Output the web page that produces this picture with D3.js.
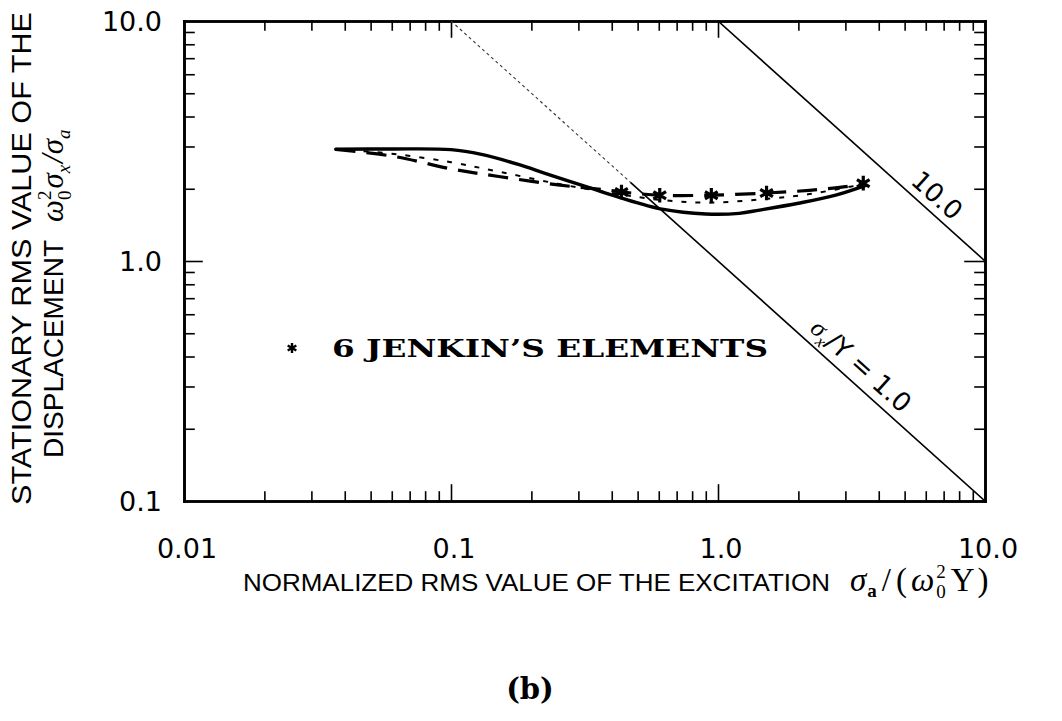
<!DOCTYPE html>
<html>
<head>
<meta charset="utf-8">
<script src="https://cdn.jsdelivr.net/npm/d3@7"></script>
<style>
  html, body { margin: 0; padding: 0; background: #fff; }
  svg { display: block; }
  .sans { font-family: "Liberation Sans", Arial, Helvetica, sans-serif; }
  .num { font-family: "DejaVu Sans", "Liberation Sans", sans-serif; }
  .serif { font-family: "DejaVu Serif", "Liberation Serif", serif; }
  .math { font-family: "Liberation Serif", "DejaVu Serif", serif; font-style: italic; }
</style>
</head>
<body>
<svg id="chart" width="1062" height="721"></svg>
<script>
// Axis ticks and labels
const xMajorTicks = [0.01, 0.1, 1, 10];
const xMajorLabels = ["0.01", "0.1", "1.0", "10.0"];
const yMajorTicks = [0.1, 1, 10];
const yMajorLabels = ["0.1", "1.0", "10.0"];

// Response curves: normalized excitation vs normalized RMS displacement
const solidX = [0.037, 0.06, 0.1, 0.13, 0.18, 0.225, 0.334, 0.421, 0.625, 0.9, 1.2, 1.43, 2.0, 2.76, 3.6];
const solidY = [2.92, 2.93, 2.91, 2.78, 2.52, 2.32, 2.01, 1.85, 1.64, 1.57, 1.58, 1.63, 1.74, 1.88, 2.07];

const dashedX = [0.037, 0.062, 0.1, 0.151, 0.256, 0.38, 0.435, 0.605, 0.944, 1.52, 2.2, 3.0, 3.5];
const dashedY = [2.92, 2.72, 2.42, 2.25, 2.07, 1.98, 1.94, 1.88, 1.88, 1.92, 1.97, 2.04, 2.11];

const dottedX = [0.037, 0.06, 0.1, 0.15, 0.25, 0.4, 0.6, 0.9, 1.4, 2.2, 3.5];
const dottedY = [2.92, 2.80, 2.58, 2.36, 2.10, 1.92, 1.80, 1.75, 1.80, 1.90, 2.09];

// Six Jenkin's elements model points
const starX = [0.435, 0.605, 0.944, 1.52, 3.5];
const starY = [1.94, 1.88, 1.88, 1.92, 2.11];

// Constant sigma_x / Y reference lines
const ratioLines = [1, 10];

const svg = d3.select("#chart");
const x = d3.scaleLog().domain([0.01, 10]).range([184, 985]);
const y = d3.scaleLog().domain([0.1, 10]).range([501, 21]);

function minorTicks(lo, hi) {
  const out = [];
  for (let d = lo; d < hi; d *= 10) {
    for (let k = 2; k <= 9; k++) out.push(+(d * k).toPrecision(3));
  }
  return out;
}
const xMinor = minorTicks(0.01, 10);
const yMinor = minorTicks(0.1, 10);
const xInner = xMajorTicks.slice(1, -1);
const yInner = yMajorTicks.slice(1, -1);

const axes = svg.append("g").attr("stroke-linecap", "square");

function drawAxis(gen, tx, ty, values, size) {
  const g = axes.append("g")
    .attr("transform", `translate(${tx},${ty})`)
    .call(gen.tickValues(values).tickSize(size).tickSizeOuter(0).tickFormat(""));
  g.select(".domain").attr("stroke", "#000").attr("stroke-width", 2.6);
  g.selectAll(".tick line").attr("stroke", "#000").attr("stroke-width", 1.6);
  return g;
}

// bottom / top
drawAxis(d3.axisBottom(x), 0, y(0.1), xMinor, -9);
drawAxis(d3.axisBottom(x), 0, y(0.1), xInner, -16);
drawAxis(d3.axisTop(x), 0, y(10), xMinor, -9);
drawAxis(d3.axisTop(x), 0, y(10), xInner, -16);
// left / right
drawAxis(d3.axisLeft(y), x(0.01), 0, yMinor, -10);
drawAxis(d3.axisLeft(y), x(0.01), 0, yInner, -18);
drawAxis(d3.axisRight(y), x(10), 0, yMinor, -10);
drawAxis(d3.axisRight(y), x(10), 0, yInner, -20);

// tick labels
svg.append("g").selectAll("text").data(xMajorTicks).join("text")
  .attr("class", "num")
  .attr("x", d => x(d) + 3)
  .attr("y", 558)
  .attr("text-anchor", "middle")
  .attr("font-size", 27)
  .text((d, i) => xMajorLabels[i]);

svg.append("g").selectAll("text").data(yMajorTicks).join("text")
  .attr("class", "num")
  .attr("x", 162)
  .attr("y", d => y(d) + 10)
  .attr("text-anchor", "end")
  .attr("font-size", 27)
  .text((d, i) => yMajorLabels[i]);

// constant-ratio diagonals  y = r / x
svg.append("clipPath").attr("id", "plotArea")
  .append("rect").attr("x", x(0.01)).attr("y", y(10))
  .attr("width", x(10) - x(0.01)).attr("height", y(0.1) - y(10));

const diag = svg.append("g").attr("clip-path", "url(#plotArea)");
ratioLines.forEach(r => {
  const x0 = Math.max(0.01, r / 10), x1 = Math.min(10, r / 0.1);
  if (r === 1) {
    const xs = 0.47;
    diag.append("line")
      .attr("x1", x(x0)).attr("y1", y(r / x0)).attr("x2", x(xs)).attr("y2", y(r / xs))
      .attr("stroke", "#333").attr("stroke-width", 1.1).attr("stroke-dasharray", "3,3");
    diag.append("line")
      .attr("x1", x(xs)).attr("y1", y(r / xs)).attr("x2", x(x1)).attr("y2", y(r / x1))
      .attr("stroke", "#000").attr("stroke-width", 1.6);
  } else {
    diag.append("line")
      .attr("x1", x(x0)).attr("y1", y(r / x0)).attr("x2", x(x1)).attr("y2", y(r / x1))
      .attr("stroke", "#000").attr("stroke-width", 1.6);
  }
});

// curves
const line = d3.line().x(d => x(d[0])).y(d => y(d[1])).curve(d3.curveCatmullRom.alpha(0.5));
const zip = (a, b) => a.map((v, i) => [v, b[i]]);

svg.append("path").datum(zip(dottedX, dottedY))
  .attr("d", line).attr("fill", "none").attr("stroke", "#000")
  .attr("stroke-width", 2).attr("stroke-dasharray", "5,9");

svg.append("path").datum(zip(dashedX, dashedY))
  .attr("d", line).attr("fill", "none").attr("stroke", "#000")
  .attr("stroke-width", 3.2).attr("stroke-dasharray", "20,11");

svg.append("path").datum(zip(solidX, solidY))
  .attr("d", line).attr("fill", "none").attr("stroke", "#000")
  .attr("stroke-width", 3.4).attr("stroke-linecap", "round");

// star markers
const star = d3.symbol().type(d3.symbolAsterisk).size(150);
svg.append("g").selectAll("path").data(zip(starX, starY)).join("path")
  .attr("transform", d => `translate(${x(d[0])},${y(d[1])})`)
  .attr("d", star).attr("fill", "none").attr("stroke", "#000").attr("stroke-width", 3.2);

// legend
svg.append("path")
  .attr("transform", "translate(292,348)")
  .attr("d", d3.symbol().type(d3.symbolAsterisk).size(70))
  .attr("fill", "none").attr("stroke", "#000").attr("stroke-width", 2.4);
svg.append("text").attr("class", "serif")
  .attr("x", 332).attr("y", 357)
  .attr("font-size", 24).attr("font-weight", "bold")
  .attr("textLength", 436).attr("lengthAdjust", "spacingAndGlyphs")
  .text("6 JENKIN’S ELEMENTS");

// diagonal labels
svg.append("text").attr("class", "num")
  .attr("transform", "translate(931,202) rotate(42)")
  .attr("text-anchor", "middle").attr("font-size", 26)
  .text("10.0");

const rl = svg.append("text")
  .attr("transform", "translate(855,372) rotate(42)")
  .attr("text-anchor", "middle").attr("font-size", 26);
rl.append("tspan").attr("class", "math").text("σ");
rl.append("tspan").attr("class", "math").attr("font-size", 17).attr("dy", 6).text("x");
rl.append("tspan").attr("class", "num").attr("dy", -6).text("/Y = 1.0");

// y-axis title
svg.append("text").attr("class", "sans")
  .attr("transform", "translate(31,505) rotate(-90)")
  .attr("font-size", 27)
  .attr("textLength", 493).attr("lengthAdjust", "spacingAndGlyphs")
  .text("STATIONARY RMS VALUE OF THE");

const yl2 = svg.append("g").attr("transform", "translate(63,458) rotate(-90)");
yl2.append("text").attr("class", "sans")
  .attr("font-size", 27)
  .attr("textLength", 218).attr("lengthAdjust", "spacingAndGlyphs")
  .text("DISPLACEMENT");
const ym = yl2.append("text").attr("class", "math").attr("x", 236).attr("font-size", 31);
ym.append("tspan").text("ω");
ym.append("tspan").attr("font-size", 19).attr("font-style", "normal").attr("dy", -12).text("2");
ym.append("tspan").attr("font-size", 19).attr("font-style", "normal").attr("dx", -9.5).attr("dy", 20).text("0");
ym.append("tspan").attr("dx", 2).attr("dy", -8).text("σ");
ym.append("tspan").attr("font-size", 19).attr("dy", 7).text("x");
ym.append("tspan").attr("dx", 2).attr("dy", -7).text("/σ");
ym.append("tspan").attr("font-size", 19).attr("dy", 7).text("a");

// x-axis title
svg.append("text").attr("class", "sans")
  .attr("x", 243).attr("y", 591)
  .attr("font-size", 24)
  .attr("textLength", 587).attr("lengthAdjust", "spacingAndGlyphs")
  .text("NORMALIZED RMS VALUE OF THE EXCITATION");

const xm = svg.append("text").attr("class", "math").attr("x", 850).attr("y", 591).attr("font-size", 33);
xm.append("tspan").text("σ");
xm.append("tspan").attr("font-size", 19).attr("font-weight", "bold").attr("font-style", "normal").attr("dx", 1).attr("dy", 6).text("a");
xm.append("tspan").attr("font-style", "normal").attr("dx", 5).attr("dy", -6).text("/");
xm.append("tspan").attr("font-style", "normal").attr("dx", 5).text("(");
xm.append("tspan").attr("dx", 4).text("ω");
xm.append("tspan").attr("font-size", 19).attr("font-style", "normal").attr("dx", 2).attr("dy", -13).text("2");
xm.append("tspan").attr("font-size", 19).attr("font-style", "normal").attr("dx", -9.5).attr("dy", 20).text("0");
xm.append("tspan").attr("font-style", "normal").attr("dx", 5).attr("dy", -7).text("Y");
xm.append("tspan").attr("font-style", "normal").attr("dx", 3).text(")");

// panel tag
svg.append("text").attr("class", "serif")
  .attr("x", 530).attr("y", 699)
  .attr("text-anchor", "middle")
  .attr("font-size", 29).attr("font-weight", "bold")
  .text("(b)");
</script>
</body>
</html>
